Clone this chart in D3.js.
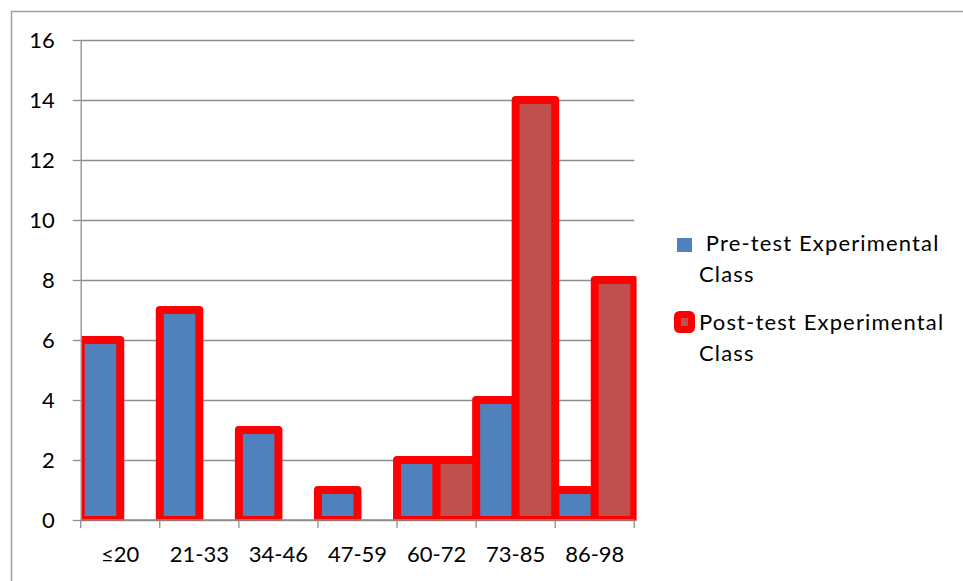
<!DOCTYPE html>
<html>
<head>
<meta charset="utf-8">
<script src="https://cdn.jsdelivr.net/npm/d3@7/dist/d3.min.js"></script>
<style>
  html, body { margin: 0; padding: 0; background: #fff; }
  svg { display: block; }
  text { font-family: Lato, "Open Sans", sans-serif; fill: #000; }
  .legend-label { letter-spacing: 1.15px; }
</style>
</head>
<body>
<svg id="chart" width="963" height="581"></svg>
<script>
// Score ranges (categories) and the number of students in each range
const categories = ["≤20", "21-33", "34-46", "47-59", "60-72", "73-85", "86-98"];
const seriesNames = ["Pre-test Experimental Class", "Post-test Experimental Class"];
const preTest  = [6, 7, 3, 1, 2, 4, 1];
const postTest = [0, 0, 0, 0, 2, 14, 8];
const yTicks = [0, 2, 4, 6, 8, 10, 12, 14, 16];

const seriesColors = ["#4F81BD", "#C0504D"];
const barStroke = "#FF0000";
const gridColor = "#8E8E8E";

const svg = d3.select("#chart");
const W = 963, H = 581;

// outer chart frame
svg.append("rect")
  .attr("x", 11.5).attr("y", 11.5)
  .attr("width", W).attr("height", H)
  .attr("fill", "none").attr("stroke", "#A0A0A0").attr("stroke-width", 1.5);

const plot = { left: 80.7, right: 634.3, top: 40, bottom: 520 };

const x = d3.scaleBand().domain(categories).range([plot.left, plot.right]).padding(0);
const xs = d3.scaleBand().domain(seriesNames).range([0, x.bandwidth()]).padding(0);
const y = d3.scaleLinear().domain([0, 16]).range([plot.bottom, plot.top]);

// horizontal gridlines
svg.append("g")
  .attr("transform", `translate(${plot.left},0)`)
  .call(d3.axisLeft(y).tickValues(yTicks).tickSize(-(plot.right - plot.left)).tickFormat(""))
  .call(g => g.select(".domain").remove())
  .call(g => g.selectAll("line").attr("stroke", gridColor).attr("stroke-width", 1.3));

// bars, clipped to the plot area
svg.append("clipPath").attr("id", "plotClip")
  .append("rect")
  .attr("x", plot.left + 0.8).attr("y", plot.top - 20)
  .attr("width", plot.right - plot.left + 1.5)
  .attr("height", plot.bottom - plot.top + 20.8);

const barsG = svg.append("g").attr("clip-path", "url(#plotClip)");
const seriesData = [preTest, postTest];
seriesData.forEach((vals, si) => {
  barsG.append("g").selectAll("rect")
    .data(categories.map((c, i) => ({ c, v: vals[i] })).filter(d => d.v > 0))
    .join("rect")
    .attr("x", d => x(d.c) + xs(seriesNames[si]))
    .attr("width", xs.bandwidth())
    .attr("y", d => y(d.v))
    .attr("height", d => y(0) - y(d.v))
    .attr("fill", seriesColors[si])
    .attr("stroke", barStroke)
    .attr("stroke-width", 8)
    .attr("stroke-linejoin", "round");
});

// y axis with outward ticks and labels
svg.append("g")
  .attr("transform", `translate(${plot.left},0)`)
  .call(d3.axisLeft(y).tickValues(yTicks).tickSize(8).tickPadding(18).tickSizeOuter(0))
  .call(g => g.select(".domain").attr("stroke", gridColor).attr("stroke-width", 1.3))
  .call(g => g.selectAll("line").attr("stroke", gridColor).attr("stroke-width", 1.3))
  .call(g => g.selectAll("text").style("font-size", "22px").attr("fill", "#000"));

// x axis: baseline, boundary ticks, centred category labels
const xAxis = svg.append("g").attr("transform", `translate(0,${plot.bottom})`);
xAxis.append("line")
  .attr("x1", plot.left).attr("x2", plot.right)
  .attr("stroke", gridColor).attr("stroke-width", 1.3);
const boundaries = categories.map(c => x(c)).concat([plot.right]);
xAxis.selectAll("line.tick").data(boundaries).join("line")
  .attr("class", "tick")
  .attr("x1", d => d).attr("x2", d => d)
  .attr("y1", 0).attr("y2", 8)
  .attr("stroke", gridColor).attr("stroke-width", 1.3);
xAxis.selectAll("text").data(categories).join("text")
  .attr("x", d => x(d) + x.bandwidth() / 2)
  .attr("y", 42)
  .attr("text-anchor", "middle")
  .style("font-size", "22px")
  .text(d => d);

// legend
const legend = svg.append("g");
legend.append("rect")
  .attr("x", 677).attr("y", 238).attr("width", 15).attr("height", 14)
  .attr("fill", seriesColors[0]);
legend.append("text").attr("class", "legend-label").attr("x", 699).attr("y", 251).style("font-size", "22px")
  .attr("xml:space", "preserve").text(" Pre-test Experimental");
legend.append("text").attr("class", "legend-label").attr("x", 699).attr("y", 282).style("font-size", "22px").text("Class");

legend.append("rect")
  .attr("x", 677.5).attr("y", 314.5).attr("width", 14).attr("height", 15)
  .attr("rx", 2)
  .attr("fill", seriesColors[1]).attr("stroke", barStroke).attr("stroke-width", 7)
  .attr("stroke-linejoin", "round");
legend.append("text").attr("class", "legend-label").attr("x", 699).attr("y", 330).style("font-size", "22px").text("Post-test Experimental");
legend.append("text").attr("class", "legend-label").attr("x", 699).attr("y", 361).style("font-size", "22px").text("Class");
</script>
</body>
</html>
